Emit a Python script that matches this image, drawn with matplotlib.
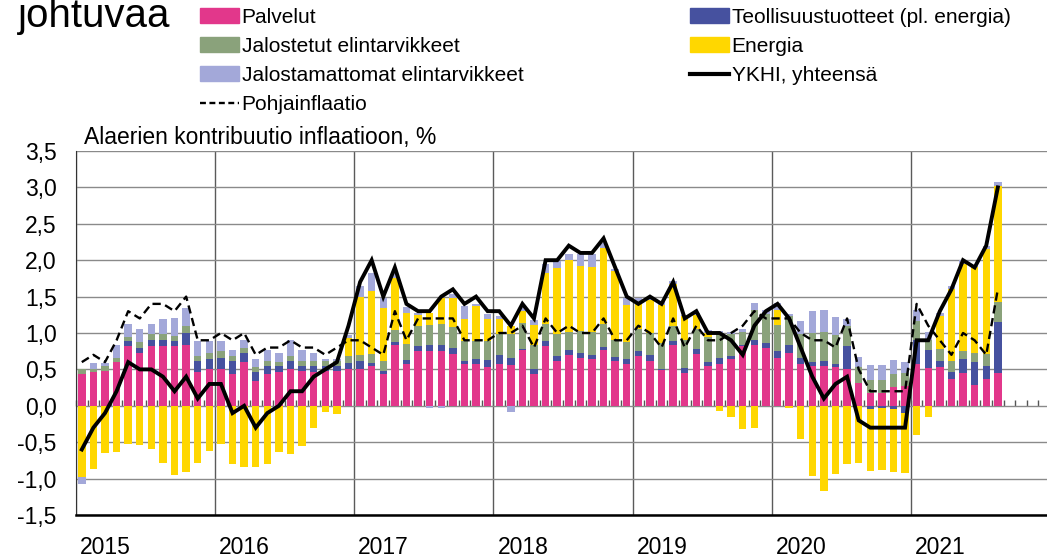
import numpy as np
import matplotlib
matplotlib.use("Agg")
import matplotlib.pyplot as plt
import matplotlib.transforms as mtransforms
from matplotlib.patches import Patch
from matplotlib.lines import Line2D

plt.rcParams['font.family'] = ['Liberation Sans', 'DejaVu Sans']

# kuukausittaiset kontribuutiot, tammikuu 2015 - elokuu 2021
years = ['2015', '2016', '2017', '2018', '2019', '2020', '2021']

palvelut = [0.43, 0.47, 0.48, 0.60, 0.82, 0.73, 0.82, 0.82, 0.82, 0.84, 0.46, 0.51,
            0.51, 0.43, 0.60, 0.34, 0.43, 0.46, 0.51, 0.48, 0.46, 0.48, 0.48, 0.50,
            0.50, 0.55, 0.43, 0.84, 0.58, 0.75, 0.75, 0.75, 0.71, 0.57, 0.57, 0.53,
            0.57, 0.56, 0.76, 0.44, 0.82, 0.62, 0.70, 0.66, 0.64, 0.76, 0.62, 0.57,
            0.68, 0.62, 0.49, 0.84, 0.45, 0.71, 0.55, 0.57, 0.64, 0.82, 0.83, 0.79,
            0.66, 0.72, 0.57, 0.54, 0.54, 0.53, 0.50, 0.32, 0.18, 0.18, 0.26, 0.27,
            0.57, 0.52, 0.53, 0.37, 0.45, 0.28, 0.37, 0.45]

teollisuus = [0.00, 0.00, 0.00, 0.00, 0.07, 0.07, 0.08, 0.09, 0.07, 0.16, 0.15, 0.13,
              0.15, 0.18, 0.13, 0.12, 0.12, 0.08, 0.10, 0.07, 0.09, 0.07, 0.07, 0.09,
              0.11, 0.04, 0.05, 0.04, 0.05, 0.07, 0.09, 0.09, 0.08, 0.05, 0.07, 0.10,
              0.13, 0.10, 0.02, 0.06, 0.07, 0.07, 0.06, 0.06, 0.06, 0.05, 0.05, 0.07,
              0.07, 0.08, 0.02, 0.05, 0.07, 0.07, 0.05, 0.09, 0.05, 0.02, 0.08, 0.07,
              0.09, 0.12, 0.09, 0.06, 0.08, 0.05, 0.32, 0.00, -0.05, -0.03, -0.05, -0.10,
              0.34, 0.25, 0.08, 0.09, 0.19, 0.32, 0.18, 0.70]

jalostetut = [0.07, 0.03, 0.06, 0.06, 0.06, 0.08, 0.08, 0.07, 0.07, 0.09, 0.08, 0.08,
              0.09, 0.07, 0.07, 0.07, 0.07, 0.06, 0.07, 0.07, 0.07, 0.07, 0.07, 0.09,
              0.09, 0.12, 0.14, 0.16, 0.22, 0.27, 0.27, 0.29, 0.29, 0.27, 0.25, 0.26,
              0.28, 0.32, 0.36, 0.34, 0.23, 0.30, 0.26, 0.31, 0.31, 0.31, 0.24, 0.23,
              0.30, 0.30, 0.35, 0.20, 0.39, 0.27, 0.34, 0.34, 0.30, 0.18, 0.40, 0.40,
              0.36, 0.39, 0.33, 0.40, 0.39, 0.39, 0.27, 0.21, 0.18, 0.18, 0.17, 0.18,
              0.25, 0.14, 0.17, 0.16, 0.11, 0.13, 0.16, 0.27]

energia = [-0.98, -0.87, -0.65, -0.63, -0.52, -0.54, -0.60, -0.78, -0.95, -0.91, -0.78, -0.62,
           -0.53, -0.80, -0.84, -0.84, -0.80, -0.64, -0.66, -0.55, -0.30, -0.09, -0.11, 0.25,
           0.80, 0.87, 0.72, 0.72, 0.43, 0.16, 0.16, 0.35, 0.40, 0.30, 0.48, 0.30,
           0.21, 0.11, 0.16, 0.27, 0.71, 0.90, 0.98, 0.89, 0.89, 1.05, 0.94, 0.52,
           0.38, 0.45, 0.52, 0.58, 0.32, 0.20, 0.06, -0.07, -0.15, -0.32, -0.30, 0.00,
           0.20, -0.03, -0.45, -0.96, -1.17, -0.93, -0.80, -0.79, -0.84, -0.85, -0.86, -0.82,
           -0.40, -0.15, 0.46, 0.98, 1.20, 1.17, 1.44, 1.60]

jalostamattomat = [-0.09, 0.09, 0.05, 0.17, 0.17, 0.18, 0.14, 0.21, 0.24, 0.25, 0.20, 0.17,
                   0.14, 0.08, 0.11, 0.11, 0.14, 0.13, 0.23, 0.15, 0.11, 0.02, 0.02, 0.04,
                   0.15, 0.25, 0.14, 0.05, 0.08, 0.03, -0.03, -0.03, 0.05, 0.18, 0.03, 0.07,
                   0.05, -0.09, 0.05, 0.07, 0.12, 0.10, 0.09, 0.16, 0.18, 0.07, 0.03, 0.09,
                   0.05, 0.05, 0.04, 0.04, 0.02, 0.03, 0.04, 0.03, 0.02, 0.04, 0.10, 0.05,
                   0.10, 0.03, 0.18, 0.30, 0.30, 0.25, 0.10, 0.14, 0.20, 0.20, 0.20, 0.15,
                   0.15, 0.10, 0.04, 0.04, 0.05, 0.02, 0.04, 0.05]

ykhi = [-0.6, -0.3, -0.1, 0.2, 0.6, 0.5, 0.5, 0.4, 0.2, 0.4, 0.1, 0.3,
        0.3, -0.1, 0.0, -0.3, -0.1, 0.0, 0.2, 0.2, 0.4, 0.5, 0.6, 1.1,
        1.7, 2.0, 1.5, 1.9, 1.4, 1.3, 1.3, 1.5, 1.6, 1.4, 1.5, 1.3,
        1.3, 1.1, 1.4, 1.2, 2.0, 2.0, 2.2, 2.1, 2.1, 2.3, 1.9, 1.5,
        1.4, 1.5, 1.4, 1.7, 1.2, 1.3, 1.0, 1.0, 0.9, 0.7, 1.1, 1.3,
        1.4, 1.2, 0.8, 0.4, 0.1, 0.3, 0.4, -0.2, -0.3, -0.3, -0.3, -0.3,
        0.9, 0.9, 1.3, 1.6, 2.0, 1.9, 2.2, 3.0]

pohjainflaatio = [0.6, 0.7, 0.6, 0.9, 1.3, 1.2, 1.4, 1.4, 1.3, 1.5, 0.9, 0.9,
                  1.0, 0.9, 1.0, 0.7, 0.8, 0.8, 0.9, 0.8, 0.8, 0.7, 0.8, 0.9,
                  0.9, 0.8, 0.7, 1.3, 0.9, 1.2, 1.2, 1.2, 1.2, 0.9, 0.9, 0.9,
                  1.0, 1.0, 1.1, 0.8, 1.2, 1.0, 1.1, 1.0, 1.0, 1.2, 0.9, 0.9,
                  1.1, 1.0, 0.8, 1.2, 0.8, 1.1, 0.9, 0.9, 1.0, 1.1, 1.3, 1.2,
                  1.2, 1.2, 1.0, 0.9, 0.9, 0.8, 1.2, 0.5, 0.2, 0.2, 0.2, 0.2,
                  1.4, 1.1, 0.9, 0.7, 1.0, 0.9, 0.7, 1.6]

# pinoamisjärjestys kuten Excelissä
series = [("Palvelut", palvelut, "#e2378b"),
          ("Teollisuustuotteet (pl. energia)", teollisuus, "#46519f"),
          ("Jalostetut elintarvikkeet", jalostetut, "#8aa27b"),
          ("Energia", energia, "#ffd700"),
          ("Jalostamattomat elintarvikkeet", jalostamattomat, "#a3a8d9")]

n = len(palvelut)
x = np.arange(n) + 0.5

fig = plt.figure(figsize=(10.47, 5.58), dpi=100)
ax = fig.add_axes([76 / 1047, 1 - 515 / 558, (1050 - 76) / 1047, (515 - 151) / 558])

pos = np.zeros(n)
neg = np.zeros(n)
colors = {}
for name, vals, col in series:
    v = np.array(vals)
    bottom = np.where(v >= 0, pos, neg)
    ax.bar(x, v, width=0.64, bottom=bottom, color=col, linewidth=0, zorder=2)
    pos = pos + np.clip(v, 0, None)
    neg = neg + np.clip(v, None, 0)
    colors[name] = col

ax.plot(x, ykhi, color="black", lw=2.8, zorder=4, solid_joinstyle="miter")
ax.plot(x, pohjainflaatio, color="black", lw=1.7, ls=(0, (3.5, 2)), zorder=3)

ax.set_xlim(0, 84)
ax.set_ylim(-1.5, 3.5)
yt = np.arange(-1.5, 3.51, 0.5)
ax.set_yticks(yt)
ax.set_yticklabels([f"{v:.1f}".replace(".", ",") for v in yt])
ax.tick_params(axis="y", length=0, pad=14, labelsize=16.5)

ax.set_xticks(np.arange(0, 85, 12))
ax.set_xticklabels(years + [""])
ax.tick_params(axis="x", length=0, pad=15, labelsize=16.5)
off = mtransforms.ScaledTranslation(4 / 100, 0, fig.dpi_scale_trans)
for lab in ax.get_xticklabels():
    lab.set_horizontalalignment("left")
    lab.set_transform(lab.get_transform() + off)

ax.grid(True, axis="y", color="#8a8a8a", lw=1, zorder=0)
ax.grid(True, axis="x", color="#5a5a5a", lw=1, zorder=0)
ax.set_axisbelow(True)
for s in ["top", "right"]:
    ax.spines[s].set_visible(False)
ax.spines["left"].set_color("#333333")
ax.spines["bottom"].set_linewidth(1.8)

# nollalinja kuukausiväleillä
secax = ax.secondary_xaxis(0.3)
secax.set_xticks(np.arange(0, 85))
secax.tick_params(direction="in", length=4, width=1, color="#555555", labelbottom=False)
secax.spines["bottom"].set_visible(False)

fig.text(84 / 1047, 1 - 144 / 558, "Alaerien kontribuutio inflaatioon, %",
         fontsize=16.5, va="baseline")
fig.text(18 / 1047, 1 - 27 / 558, "johtuvaa", fontsize=29, va="baseline")

h1 = [Patch(color=colors["Palvelut"]),
      Patch(color=colors["Jalostetut elintarvikkeet"]),
      Patch(color=colors["Jalostamattomat elintarvikkeet"]),
      Line2D([], [], color="black", lw=1.7, ls=(0, (2.5, 1.5)))]
l1 = ["Palvelut", "Jalostetut elintarvikkeet", "Jalostamattomat elintarvikkeet", "Pohjainflaatio"]
h2 = [Patch(color=colors["Teollisuustuotteet (pl. energia)"]),
      Patch(color=colors["Energia"]),
      Line2D([], [], color="black", lw=3)]
l2 = ["Teollisuustuotteet (pl. energia)", "Energia", "YKHI, yhteensä"]

kw = dict(loc="upper left", frameon=False, fontsize=15, handlelength=1.85,
          handletextpad=0.15, labelspacing=0.48, borderpad=0, borderaxespad=0)
fig.legend(h1, l1, bbox_to_anchor=(200 / 1047, 1 - 8 / 558), **kw)
fig.legend(h2, l2, bbox_to_anchor=(690 / 1047, 1 - 8 / 558), **kw)

fig.savefig("out.png", dpi=100)
